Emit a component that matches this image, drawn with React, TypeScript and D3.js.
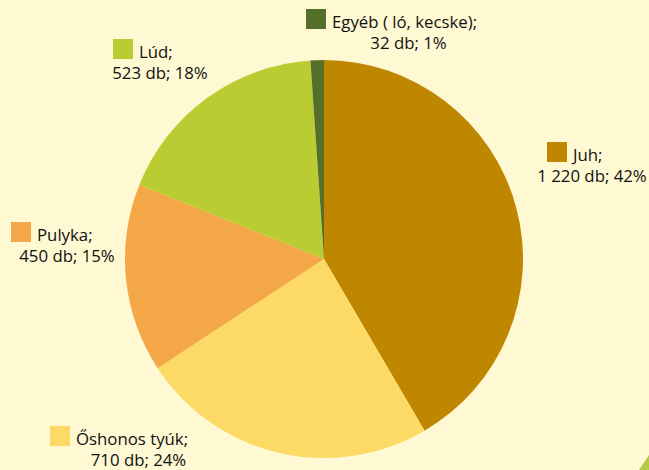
import React from "react";
import * as d3 from "d3";

const categories = ["Juh", "Őshonos tyúk", "Pulyka", "Lúd", "Egyéb ( ló, kecske)"];
const values = [1220, 710, 450, 523, 32];
const percents = [42, 24, 15, 18, 1];
const colors = ["#BF8700", "#FDD966", "#F4A747", "#B9CD32", "#556F2A"];

// label placement: [square x, square top, line2 center x]
const labelPos: [number, number, number][] = [
  [547, 142, 592],
  [50, 426, 138.5],
  [11, 222, 67],
  [113, 39, 160],
  [306, 9, 408.5],
];

const W = 649;
const H = 470;

function fmt(v: number) {
  // Hungarian thousands separator (space)
  return d3.format(",")(v).replace(/,/g, " ");
}

export default function App() {
  const cx = 324;
  const cy = 259;
  const r = 199;
  const pie = d3.pie<number>().sort(null).value((d) => d);
  const arcs = pie(values);
  const arc = d3.arc<d3.PieArcDatum<number>>().innerRadius(0).outerRadius(r);
  const font = "'Open Sans', 'Noto Sans', sans-serif";
  const fs = 16.8;
  return (
    <svg
      width={W}
      height={H}
      style={{ position: "absolute", left: 0, top: 0, display: "block" }}
    >
      <rect x={0} y={0} width={W} height={H} fill="#FEF8D3" />
      <path d={`M${W - 10},${H} L${W},${H - 15} L${W},${H} Z`} fill="#B5C947" />
      <g transform={`translate(${cx},${cy})`}>
        {arcs.map((a, i) => (
          <path key={i} d={arc(a) || ""} fill={colors[i]} />
        ))}
      </g>
      {categories.map((c, i) => {
        const [sx, sy, lx] = labelPos[i];
        return (
          <g key={c} fontFamily={font} fontSize={fs} fill="#111111">
            <rect x={sx} y={sy} width={20} height={20} fill={colors[i]} />
            <text x={sx + 26} y={sy + 19}>{c};</text>
            <text x={lx} y={sy + 40} textAnchor="middle">
              {`${fmt(values[i])} db; ${percents[i]}%`}
            </text>
          </g>
        );
      })}
    </svg>
  );
}
